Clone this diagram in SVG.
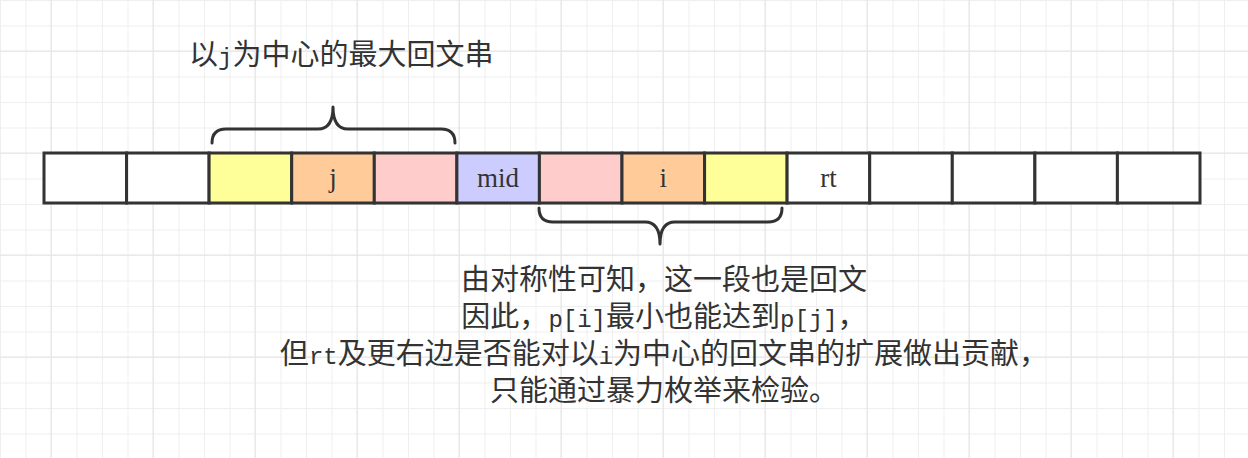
<svg xmlns="http://www.w3.org/2000/svg" width="1248" height="458" viewBox="0 0 1248 458">
<style>
.cell{stroke:#333;stroke-width:3}
.w{fill:#ffffff}.y{fill:#ffff99}.o{fill:#ffcc99}.p{fill:#ffcccc}.v{fill:#ccccff}
.lbl{font-family:"Liberation Serif",serif;font-size:27px;fill:#333;text-anchor:middle}
.brace{fill:none;stroke:#333;stroke-width:3;stroke-linecap:round;stroke-linejoin:round}
.cn{font-family:"Liberation Sans","Noto Sans CJK SC",sans-serif;font-size:29px;fill:#333}
.lat{font-family:"Liberation Mono","DejaVu Sans Mono",monospace;font-size:24px}
</style>
<defs>
<pattern id="minor" x="0" y="0" width="25.5" height="25.5" patternUnits="userSpaceOnUse">
<path d="M0.5 0V25.5M0 0.5H25.5" stroke="#efefef" stroke-width="1" fill="none"/>
</pattern>
<pattern id="major" x="0" y="0" width="102" height="102" patternUnits="userSpaceOnUse">
<path d="M51 0V102M0 51H102" stroke="#e4e4e4" stroke-width="1" fill="none"/>
</pattern>
</defs>
<rect width="1248" height="458" fill="#ffffff"/>
<rect width="1248" height="458" fill="url(#minor)"/>
<rect width="1248" height="458" fill="url(#major)"/>

<g id="cells">
<g id="cell0"><rect class="cell w" x="44" y="153" width="82.6" height="50"/></g>
<g id="cell1"><rect class="cell w" x="126.6" y="153" width="82.5" height="50"/></g>
<g id="cell2"><rect class="cell y" x="209.1" y="153" width="82.6" height="50"/></g>
<g id="cell3"><rect class="cell o" x="291.7" y="153" width="82.6" height="50"/><text class="lbl" x="333" y="187">j</text></g>
<g id="cell4"><rect class="cell p" x="374.3" y="153" width="82.6" height="50"/></g>
<g id="cell5"><rect class="cell v" x="456.9" y="153" width="82.5" height="50"/><text class="lbl" x="498.1" y="187">mid</text></g>
<g id="cell6"><rect class="cell p" x="539.4" y="153" width="82.6" height="50"/></g>
<g id="cell7"><rect class="cell o" x="622" y="153" width="82.6" height="50"/><text class="lbl" x="663.3" y="187">i</text></g>
<g id="cell8"><rect class="cell y" x="704.6" y="153" width="82.5" height="50"/></g>
<g id="cell9"><rect class="cell w" x="787.1" y="153" width="82.6" height="50"/><text class="lbl" x="828.4" y="187">rt</text></g>
<g id="cell10"><rect class="cell w" x="869.7" y="153" width="82.6" height="50"/></g>
<g id="cell11"><rect class="cell w" x="952.3" y="153" width="82.6" height="50"/></g>
<g id="cell12"><rect class="cell w" x="1034.9" y="153" width="82.5" height="50"/></g>
<g id="cell13"><rect class="cell w" x="1117.4" y="153" width="82.6" height="50"/></g>
</g>

<g id="connectors"></g>

<g id="brace-top">
<path class="brace" d="M212,143 Q212,129 226,129 L318,129 Q333,129 333,107 Q333,129 348,129 L441,129 Q455,129 455,143"/>
</g>
<g id="brace-bottom">
<path class="brace" d="M539,208 Q539,222 553,222 L645,222 Q660,222 660,244 Q660,222 675,222 L768,222 Q782,222 782,208"/>
</g>

<g id="title">
<text class="cn" x="189" y="64.5">以<tspan class="lat">j</tspan>为中心的最大回文串</text>
</g>

<g id="note">
<text class="cn" text-anchor="middle"><tspan x="664" y="289.5">由对称性可知，这一段也是回文</tspan><tspan x="664" y="326.7">因此，<tspan class="lat">p[i]</tspan>最小也能达到<tspan class="lat">p[j]</tspan>，</tspan><tspan x="664" y="363.9">但<tspan class="lat">rt</tspan>及更右边是否能对以<tspan class="lat">i</tspan>为中心的回文串的扩展做出贡献，</tspan><tspan x="664" y="401">只能通过暴力枚举来检验。</tspan></text>
</g>
</svg>
